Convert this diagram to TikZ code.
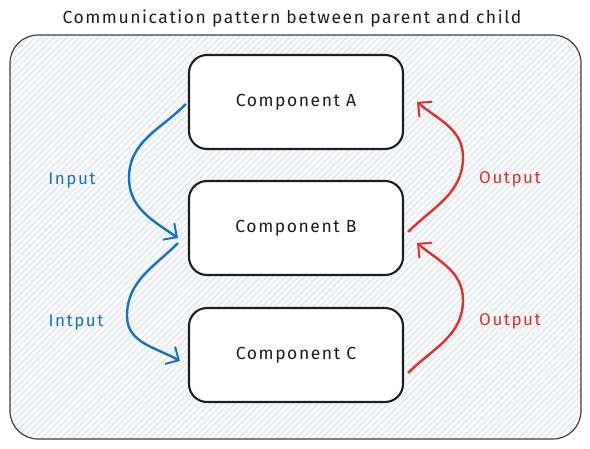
\documentclass[tikz,border=0pt]{standalone}
\usepackage{fontspec}
\setmainfont{Fira Sans}[LetterSpace=9]
\usetikzlibrary{arrows.meta,patterns.meta}
\definecolor{exblue}{HTML}{1971C2}
\definecolor{exred}{HTML}{E03131}
\definecolor{exdark}{HTML}{1E1E1E}
\definecolor{hatch}{HTML}{D9DEE3}
\definecolor{bgfill}{HTML}{F7F8F9}
\begin{document}
\begin{tikzpicture}[x=1pt,y=-1pt,
  comp/.style={draw=exdark,line width=2.1pt,fill=white,rounded corners=18pt,
    minimum width=214pt,minimum height=94pt,inner sep=0pt,font=\fontsize{17.5}{20}\selectfont,text=exdark},
  frame/.style={draw=exdark!85,line width=1.2pt,rounded corners=28pt,
    pattern={Lines[angle=45,distance=4.5pt,line width=0.6pt]},pattern color=hatch},
  inarrow/.style={draw=exblue,line width=2.4pt,-{Straight Barb[length=10pt,width=20pt,line width=2pt]}},
  outarrow/.style={draw=exred,line width=2.4pt,-{Straight Barb[length=10pt,width=20pt,line width=2pt]}},
  lbl/.style={font=\fontsize{17}{19}\selectfont,inner sep=0pt}
]
\useasboundingbox (0,0) rectangle (590,448);
\fill[bgfill,rounded corners=28pt] (10,35) rectangle (581,439);
\node[frame,minimum width=571pt,minimum height=404pt,inner sep=0pt] (frame) at (295.5,237) {};
\node[font=\fontsize{17.5}{20}\selectfont,text=exdark] (title) at (292,19) {Communication pattern between parent and child};
\node[comp] (A) at (296,102) {Component A};
\node[comp] (B) at (296,228) {Component B};
\node[comp] (C) at (296,355) {Component C};
% blue input arrows
\coordinate (b1e) at ([xshift=-10pt,yshift=-10pt]B.west);
\coordinate (b2s) at ([xshift=-10pt,yshift=-15pt]B.west);
\coordinate (c1e) at ([xshift=-8pt,yshift=-6pt]C.west);
\draw[inarrow] ([xshift=-2pt,yshift=-2pt]A.west) to[out=225,in=90] (129,178) to[out=270,in=145] (b1e);
\draw[inarrow] (b2s) to[out=225,in=90] (127,316) to[out=270,in=150] (c1e);
% red output arrows
\coordinate (r1s) at ([xshift=4pt,yshift=-4pt]B.east);
\coordinate (r1e) at ([xshift=13pt,yshift=0pt]A.east);
\coordinate (r2s) at ([xshift=4pt,yshift=-18pt]C.east);
\coordinate (r2e) at ([xshift=13pt,yshift=-15pt]B.east);
\draw[outarrow] (r1s) to[out=45,in=270] (463,157) to[out=90,in=-40] (r1e);
\draw[outarrow] (r2s) to[out=45,in=270] (463,300) to[out=90,in=-40] (r2e);
% labels
\node[lbl,text=exblue] (in1) at (72,180) {Input};
\node[lbl,text=exblue] (in2) at (76,322) {Intput};
\node[lbl,text=exred] (out1) at (510,179) {Output};
\node[lbl,text=exred] (out2) at (510,321) {Output};
\end{tikzpicture}
\end{document}
